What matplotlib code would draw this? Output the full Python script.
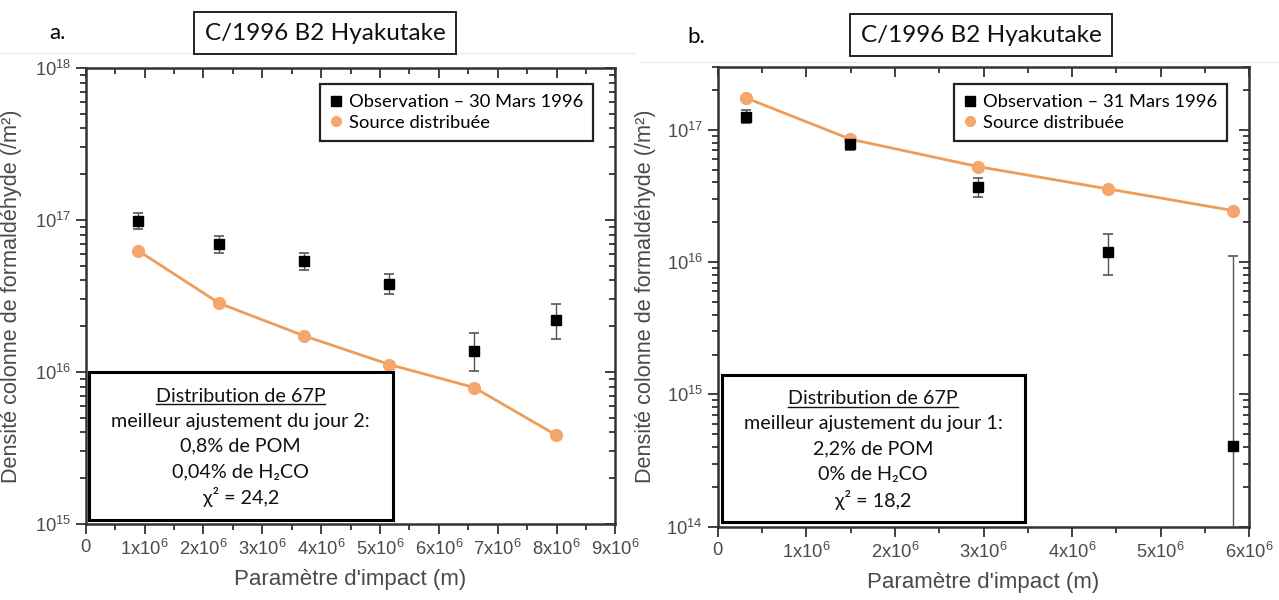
import numpy as np
import matplotlib
matplotlib.use("Agg")
import matplotlib.pyplot as plt
from matplotlib.patches import Rectangle
from matplotlib.lines import Line2D
from matplotlib.ticker import FixedLocator, FuncFormatter, LogLocator, NullFormatter

plt.rcParams['mathtext.fontset'] = 'custom'
plt.rcParams['mathtext.rm'] = 'Liberation Sans'
plt.rcParams['mathtext.it'] = 'Liberation Sans'
plt.rcParams['font.family'] = ['Liberation Sans', 'DejaVu Sans']

# ---------------- data ----------------
# Panel a : 30 Mars 1996
a_obs_x = [0.887e6, 2.27e6, 3.71e6, 5.16e6, 6.60e6, 7.99e6]
a_obs_y = [0.985e17, 0.698e17, 0.537e17, 0.381e17, 1.38e16, 2.20e16]
a_obs_hi = [1.117e17, 0.79e17, 0.604e17, 0.44e17, 1.80e16, 2.79e16]
a_obs_lo = [0.87e17, 0.61e17, 0.467e17, 0.327e17, 1.02e16, 1.65e16]
a_mod_x = [0.887e6, 2.27e6, 3.71e6, 5.16e6, 6.60e6, 7.99e6]
a_mod_y = [0.63e17, 2.83e16, 1.73e16, 1.12e16, 0.79e16, 0.385e16]

# Panel b : 31 Mars 1996
b_obs_x = [0.323e6, 1.497e6, 2.94e6, 4.41e6, 5.81e6]
b_obs_y = [1.26e17, 0.78e17, 0.368e17, 1.20e16, 4.06e14]
b_obs_hi = [1.42e17, 0.84e17, 0.43e17, 1.63e16, 1.12e16]
b_obs_lo = [1.12e17, 0.70e17, 0.313e17, 0.80e16, 1.0e13]
b_mod_x = [0.323e6, 1.497e6, 2.94e6, 4.41e6, 5.82e6]
b_mod_y = [1.74e17, 0.85e17, 0.527e17, 0.357e17, 0.245e17]

title = "C/1996 B2 Hyakutake"
leg_obs = ["Observation \u2013 30 Mars 1996", "Observation \u2013 31 Mars 1996"]
leg_mod = "Source distribu\u00e9e"
ylabel = "Densit\u00e9 colonne de formald\u00e9hyde (/m\u00b2)"
xlabel = "Param\u00e8tre d'impact (m)"
box_a = ["Distribution de 67P", "meilleur ajustement du jour 2:", "0,8% de POM",
         "0,04% de H\u2082CO", "\u03c7\u00b2 = 24,2"]
box_b = ["Distribution de 67P", "meilleur ajustement du jour 1:", "2,2% de POM",
         "0% de H\u2082CO", "\u03c7\u00b2 = 18,2"]
a_xticks = [0, 1e6, 2e6, 3e6, 4e6, 5e6, 6e6, 7e6, 8e6, 9e6]
b_xticks = [0, 1e6, 2e6, 3e6, 4e6, 5e6, 6e6]

W, H = 1279, 600
fig = plt.figure(figsize=(W / 100, H / 100), dpi=100)
fig.patch.set_facecolor('white')

ORANGE_M = '#F5A66C'
ORANGE_L = '#EE9D58'
TXT = '#4a4a4a'
BOXFONT = ['Lato', 'DejaVu Sans']


def fx(px):
    return px / W


def fy(py):
    return 1 - py / H


def xfmt(v, pos):
    if v == 0:
        return '0'
    n = int(round(v / 1e6))
    return r'$\mathregular{%dx10^{6}}$' % n


def yfmt(v, pos):
    e = int(round(np.log10(v)))
    return r'$\mathregular{10^{%d}}$' % e


def setup(ax, xmax, xticks, ylim):
    ax.set_yscale('log')
    ax.set_xlim(0, xmax)
    ax.set_ylim(*ylim)
    ax.xaxis.set_major_locator(FixedLocator(xticks))
    ax.xaxis.set_minor_locator(FixedLocator(np.arange(0.5e6, xmax, 1e6)))
    ax.xaxis.set_major_formatter(FuncFormatter(xfmt))
    ax.yaxis.set_major_locator(LogLocator(base=10, numticks=20))
    ax.yaxis.set_minor_locator(LogLocator(base=10, subs=np.arange(2, 10), numticks=20))
    ax.yaxis.set_major_formatter(FuncFormatter(yfmt))
    ax.yaxis.set_minor_formatter(NullFormatter())
    for s in ax.spines.values():
        s.set_linewidth(1.8)
        s.set_color('#333333')
    ax.tick_params(which='both', direction='out', color='#333333', width=1.3,
                   labelcolor=TXT, labelsize=13.2)
    ax.tick_params(which='major', length=7)
    ax.tick_params(which='minor', length=4)
    ax.tick_params(axis='x', which='major', pad=4)
    ax.set_xlabel(xlabel, fontsize=16, color=TXT, labelpad=7)
    ax.set_ylabel(ylabel, fontsize=15.6, color=TXT, labelpad=6)


def draw_panel(ax, ox, oy, ohi, olo, mx, my):
    oy = np.array(oy)
    err = [oy - np.array(olo), np.array(ohi) - oy]
    ax.errorbar(ox, oy, yerr=err, fmt='none', ecolor='#555555', elinewidth=1.0,
                capsize=3.5, capthick=1.2, zorder=3)
    ax.plot(mx, my, '-', color=ORANGE_L, lw=2.0, zorder=4)
    ax.plot(mx, my, 'o', color=ORANGE_M, ms=8.5, mec=ORANGE_M, zorder=5, ls='none')
    ax.plot(ox, oy, 's', color='black', ms=7.5, zorder=6, ls='none')


axa = fig.add_axes([fx(85.7), fy(524), fx(615.5 - 85.7), (524 - 68) / H])
axb = fig.add_axes([fx(717.6), fy(526.7), fx(1249.4 - 717.6), (526.7 - 66.7) / H])

setup(axa, 9e6, a_xticks, (1e15, 1e18))
setup(axb, 6e6, b_xticks, (1e14, 3e17))
draw_panel(axa, a_obs_x, a_obs_y, a_obs_hi, a_obs_lo, a_mod_x, a_mod_y)
draw_panel(axb, b_obs_x, b_obs_y, b_obs_hi, b_obs_lo, b_mod_x, b_mod_y)

for ax in (axa, axb):
    ax.tick_params(which='both', top=True, right=True)
    # top/right ticks point inward
    for t in ax.xaxis.get_major_ticks() + ax.xaxis.get_minor_ticks():
        t.tick2line.set_marker(matplotlib.lines.TICKDOWN)
    for t in ax.yaxis.get_major_ticks() + ax.yaxis.get_minor_ticks():
        t.tick2line.set_marker(matplotlib.lines.TICKLEFT)

axa.yaxis.set_label_coords(-0.12, 0.5)
axb.yaxis.set_label_coords(-0.115, 0.5)

# legends
for ax, lab, anchor in ((axa, leg_obs[0], (fx(593), fy(84))), (axb, leg_obs[1], (fx(1227), fy(84)))):
    h1 = Line2D([], [], marker='s', color='black', ls='none', ms=7.5)
    h2 = Line2D([], [], marker='o', color=ORANGE_M, ls='none', ms=7)
    leg = ax.legend([h1, h2], [lab, leg_mod], loc='upper right', bbox_to_anchor=anchor,
                    bbox_transform=fig.transFigure, fancybox=False, framealpha=1,
                    edgecolor='#222222', handlelength=0.6, handletextpad=0.4,
                    borderpad=0.55, labelspacing=0.25, borderaxespad=0,
                    prop={'family': BOXFONT, 'size': 13.2})
    leg.get_frame().set_linewidth(1.6)
    leg.set_zorder(10)

# title boxes and panel letters
for cx, cy in ((325, 33), (981, 35)):
    fig.text(fx(cx), fy(cy), title, ha='center', va='center', fontsize=17.5,
             family=BOXFONT, color='#111111',
             bbox=dict(boxstyle='square,pad=0.42', fc='white', ec='#222222', lw=1.4))
fig.text(fx(57), fy(33), 'a.', ha='center', va='center', fontsize=16, family=BOXFONT)
fig.text(fx(696), fy(37), 'b.', ha='center', va='center', fontsize=16, family=BOXFONT)

# faint separator lines near top
fig.add_artist(Line2D([0, fx(635)], [fy(53), fy(53)], color='#eeeeee', lw=1))
fig.add_artist(Line2D([fx(640), 1], [fy(62), fy(62)], color='#eeeeee', lw=1))

# text boxes
texts_for_underline = []
for (x0, x1, y0, y1), lines in (((88.6, 392.7, 372, 520), box_a), ((721.6, 1024.5, 375, 522), box_b)):
    rect = Rectangle((fx(x0), fy(y1)), fx(x1 - x0), (y1 - y0) / H, transform=fig.transFigure,
                     fc='white', ec='black', lw=2.2, zorder=20)
    fig.add_artist(rect)
    cx = (x0 + x1) / 2
    offs = [24, 49, 74, 99.5, 125]
    for i, (ln, off) in enumerate(zip(lines, offs)):
        t = fig.text(fx(cx), fy(y0 + off), ln, ha='center', va='center', fontsize=14.2,
                     family=BOXFONT, color='#111111', zorder=21)
        if i == 0:
            texts_for_underline.append(t)

fig.canvas.draw()
r = fig.canvas.get_renderer()
for t in texts_for_underline:
    bb = t.get_window_extent(renderer=r)
    yb = bb.y0 + 1
    fig.add_artist(Line2D([bb.x0 / W, bb.x1 / W], [yb / H, yb / H], color='#111111', lw=1.0,
                          zorder=22))

fig.savefig('out.png', dpi=100, facecolor='white')
